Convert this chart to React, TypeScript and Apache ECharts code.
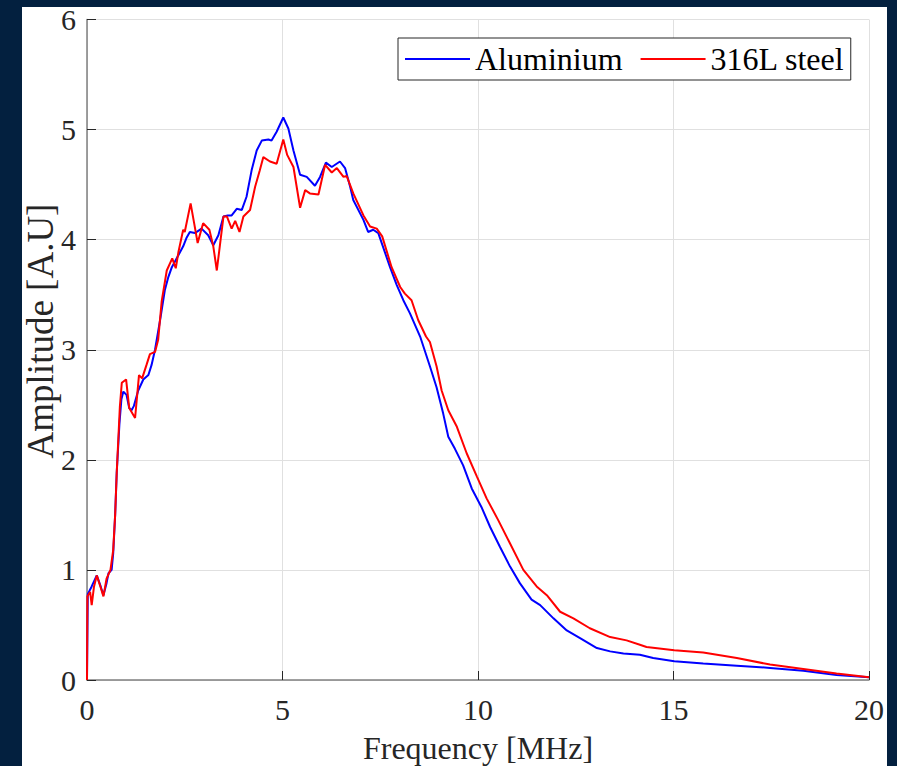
import React, { useEffect, useRef } from "react";
import * as echarts from "echarts";

const freqAl = [0, 0.02, 0.12, 0.25, 0.35, 0.42, 0.5, 0.55, 0.63, 0.67, 0.72, 0.76, 0.83, 0.88, 0.93, 1.01, 1.08, 1.14, 1.2, 1.31, 1.44, 1.57, 1.65, 1.74, 1.87, 1.99, 2.08, 2.17, 2.34, 2.46, 2.55, 2.63, 2.76, 2.93, 3.1, 3.23, 3.36, 3.49, 3.6, 3.7, 3.83, 3.96, 4.08, 4.21, 4.34, 4.47, 4.64, 4.72, 4.85, 5.02, 5.15, 5.28, 5.45, 5.62, 5.83, 5.96, 6.11, 6.26, 6.47, 6.6, 6.73, 6.81, 7.07, 7.19, 7.32, 7.45, 7.75, 7.92, 8.09, 8.26, 8.52, 8.77, 8.94, 9.11, 9.24, 9.41, 9.62, 9.84, 10.09, 10.31, 10.56, 10.82, 11.07, 11.37, 11.59, 11.93, 12.27, 12.61, 13.04, 13.38, 13.72, 14.14, 14.48, 15.02, 15.76, 16.62, 17.47, 18.32, 19.17, 20.0];
const ampAl = [0, 0.78, 0.85, 0.95, 0.85, 0.77, 0.88, 0.97, 1.0, 1.15, 1.5, 1.88, 2.33, 2.55, 2.62, 2.59, 2.47, 2.45, 2.49, 2.63, 2.73, 2.77, 2.86, 3.0, 3.27, 3.54, 3.66, 3.75, 3.86, 3.94, 4.02, 4.07, 4.06, 4.1, 4.04, 3.95, 4.04, 4.21, 4.22, 4.22, 4.28, 4.27, 4.39, 4.63, 4.81, 4.9, 4.91, 4.9, 4.98, 5.11, 5.01, 4.81, 4.59, 4.57, 4.49, 4.57, 4.7, 4.66, 4.71, 4.65, 4.48, 4.36, 4.18, 4.07, 4.09, 4.06, 3.75, 3.59, 3.45, 3.33, 3.12, 2.85, 2.66, 2.42, 2.21, 2.1, 1.95, 1.74, 1.57, 1.39, 1.21, 1.03, 0.88, 0.73, 0.68, 0.56, 0.45, 0.38, 0.29, 0.26, 0.24, 0.23, 0.2, 0.17, 0.15, 0.13, 0.11, 0.085, 0.045, 0.025];

const freqSteel = [0, 0.01, 0.08, 0.12, 0.18, 0.25, 0.35, 0.42, 0.5, 0.6, 0.67, 0.72, 0.76, 0.84, 0.89, 1.0, 1.08, 1.23, 1.33, 1.41, 1.52, 1.61, 1.74, 1.82, 1.91, 2.04, 2.18, 2.27, 2.34, 2.46, 2.5, 2.65, 2.74, 2.83, 2.97, 3.13, 3.23, 3.32, 3.4, 3.49, 3.58, 3.7, 3.79, 3.9, 4.0, 4.17, 4.3, 4.42, 4.51, 4.68, 4.85, 5.02, 5.12, 5.28, 5.45, 5.58, 5.7, 5.92, 6.09, 6.26, 6.39, 6.56, 6.64, 6.81, 7.07, 7.24, 7.41, 7.55, 7.79, 8.01, 8.13, 8.3, 8.47, 8.67, 8.77, 8.94, 9.07, 9.24, 9.46, 9.71, 9.97, 10.22, 10.52, 10.82, 11.16, 11.5, 11.76, 12.1, 12.44, 12.86, 13.38, 13.8, 14.14, 14.31, 15.02, 15.76, 16.62, 17.47, 18.32, 19.17, 20.0];
const ampSteel = [0, 0.76, 0.8, 0.68, 0.85, 0.95, 0.84, 0.76, 0.92, 1.0, 1.18, 1.5, 1.88, 2.48, 2.7, 2.73, 2.47, 2.38, 2.77, 2.74, 2.86, 2.96, 2.98, 3.09, 3.44, 3.72, 3.83, 3.74, 3.89, 4.09, 4.07, 4.33, 4.15, 3.97, 4.15, 4.09, 3.94, 3.72, 3.95, 4.21, 4.21, 4.1, 4.17, 4.07, 4.21, 4.27, 4.48, 4.63, 4.75, 4.71, 4.69, 4.91, 4.77, 4.66, 4.29, 4.45, 4.42, 4.41, 4.68, 4.61, 4.65, 4.57, 4.58, 4.42, 4.22, 4.12, 4.1, 4.03, 3.75, 3.57, 3.51, 3.45, 3.27, 3.12, 3.07, 2.85, 2.63, 2.45, 2.3, 2.06, 1.85, 1.65, 1.45, 1.24, 1.0, 0.85, 0.77, 0.62, 0.56, 0.47, 0.39, 0.36, 0.32, 0.3, 0.27, 0.25, 0.2, 0.14, 0.1, 0.06, 0.025];

const seriesNames = ["Aluminium", "316L steel"];
const xTicks = [0, 20, 5];
const yTicks = [0, 6, 1];
const xTitle = "Frequency [MHz]";
const yTitle = "Amplitude [A.U]";

const FONT = "'Liberation Serif', 'Times New Roman', serif";

export default function App() {
  const ref = useRef<HTMLDivElement>(null);
  useEffect(() => {
    if (!ref.current) return;
    const chart = echarts.init(ref.current, undefined, { renderer: "svg" });
    const axisCommon = {
      type: "value" as const,
      nameLocation: "middle" as const,
      axisLine: { show: true, onZero: false, lineStyle: { color: "#808080", width: 1.5 } },
      axisTick: { show: true, inside: true, length: 9, lineStyle: { color: "#262626", width: 1 } },
      splitLine: { show: true, lineStyle: { color: "#e0e0e0", width: 1 } },
    };
    chart.setOption({
      animation: false,
      backgroundColor: "transparent",
      textStyle: { fontFamily: FONT },
      grid: { left: 87, top: 19.5, right: 28, bottom: 86, containLabel: false, outerBoundsMode: "none" },
      legend: {
        left: 398,
        top: 38,
        orient: "horizontal",
        icon: "rect",
        itemWidth: 65,
        itemHeight: 2,
        itemGap: 18,
        padding: [5, 6, 5, 7],
        backgroundColor: "#ffffff",
        borderColor: "#262626",
        borderWidth: 1,
        borderRadius: 0,
        textStyle: { fontFamily: FONT, fontSize: 32, color: "#000000", lineHeight: 31 },
        data: seriesNames,
      },
      graphic: [
        {
          type: "text",
          x: 40,
          y: 331,
          rotation: Math.PI / 2,
          style: {
            text: yTitle,
            fontFamily: FONT,
            fontSize: 37,
            fill: "#262626",
            align: "center",
            verticalAlign: "middle",
          },
          z: 10,
        },
      ],
      xAxis: {
        ...axisCommon,
        min: xTicks[0],
        max: xTicks[1],
        interval: xTicks[2],
        name: xTitle,
        nameGap: 52,
        nameTextStyle: { fontFamily: FONT, fontSize: 32, color: "#262626" },
        axisLabel: { fontFamily: FONT, fontSize: 30, color: "#262626", margin: 14 },
      },
      yAxis: {
        ...axisCommon,
        min: yTicks[0],
        max: yTicks[1],
        interval: yTicks[2],
        axisLabel: { fontFamily: FONT, fontSize: 30, color: "#262626", margin: 11 },
      },
      series: [
        {
          name: seriesNames[0],
          type: "line",
          symbol: "none",
          showSymbol: false,
          color: "#0000ff",
          lineStyle: { color: "#0000ff", width: 2 },
          data: freqAl.map((f, i) => [f, ampAl[i]]),
          z: 2,
        },
        {
          name: seriesNames[1],
          type: "line",
          symbol: "none",
          showSymbol: false,
          color: "#ff0000",
          lineStyle: { color: "#ff0000", width: 2 },
          data: freqSteel.map((f, i) => [f, ampSteel[i]]),
          z: 3,
        },
      ],
    });
    return () => chart.dispose();
  }, []);

  return (
    <div style={{ position: "fixed", left: 0, top: 0, width: 897, height: 766, background: "#03203f", overflow: "hidden" }}>
      <div style={{ position: "absolute", left: 22, top: 7, width: 865, height: 759, background: "#ffffff" }} />
      <div ref={ref} style={{ position: "absolute", left: 0, top: 0, width: 897, height: 766 }} />
    </div>
  );
}
